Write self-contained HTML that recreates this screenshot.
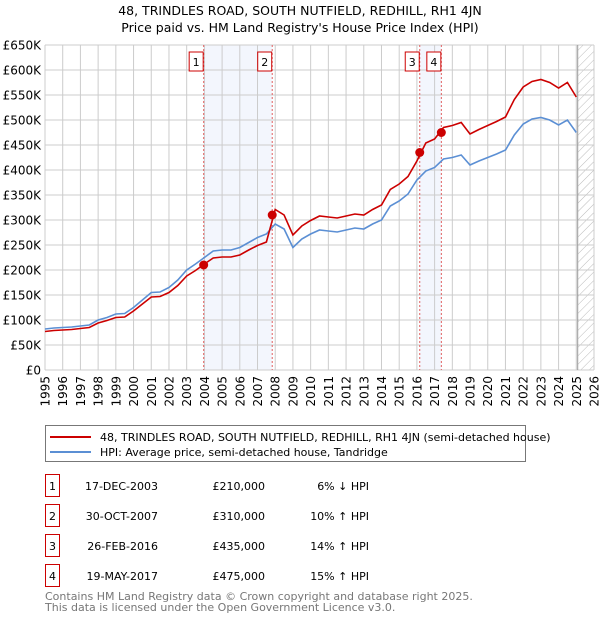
<!DOCTYPE html>
<html><head><meta charset="utf-8"><style>
body{margin:0;background:#fff;font-family:"Liberation Sans","DejaVu Sans",sans-serif;}
#wrap{position:relative;width:600px;height:620px;overflow:hidden;}
svg text{font-family:"DejaVu Sans","Liberation Sans",sans-serif;}
</style></head><body>
<div id="wrap">
<svg id="c" width="600" height="620"></svg>
</div>
<script>
const years=[1995,1995.5,1996,1996.5,1997,1997.5,1998,1998.5,1999,1999.5,2000,2000.5,2001,2001.5,2002,2002.5,2003,2003.5,2004,2004.5,2005,2005.5,2006,2006.5,2007,2007.5,2008,2008.5,2009,2009.5,2010,2010.5,2011,2011.5,2012,2012.5,2013,2013.5,2014,2014.5,2015,2015.5,2016,2016.5,2017,2017.5,2018,2018.5,2019,2019.5,2020,2020.5,2021,2021.5,2022,2022.5,2023,2023.5,2024,2024.5,2025];
const hpiValues=[82,84,85,86,88,90,100,105,112,113,125,140,155,156,165,180,200,212,225,238,240,240,245,255,265,272,292,282,245,262,272,280,278,276,280,284,282,292,300,328,338,352,380,398,405,422,425,430,410,418,425,432,440,470,492,502,505,500,490,500,475];
const propValues=[77,79,80,81,83,85,94,99,105,106,118,132,146,147,155,169,188,199,212,224,226,226,230,240,249,256,321,310,270,288,299,308,306,304,308,312,310,321,330,361,372,387,418,454,462,485,489,495,472,481,489,497,506,541,566,577,581,575,564,575,546];
const saleDates=[2003.96,2007.83,2016.16,2017.38];
const salePrices=[210,310,435,475];
const saleLabels=["1","2","3","4"];
const yTicks=[0,50,100,150,200,250,300,350,400,450,500,550,600,650];
const xTicks=[1995,1996,1997,1998,1999,2000,2001,2002,2003,2004,2005,2006,2007,2008,2009,2010,2011,2012,2013,2014,2015,2016,2017,2018,2019,2020,2021,2022,2023,2024,2025,2026];

const L=45,R=594,T=45,B=370,x0=1995,x1=2026,yMax=650,dataEnd=2025.08;
const X=v=>L+(v-x0)/(x1-x0)*(R-L);
const Y=v=>B-v/yMax*(B-T);
const NS="http://www.w3.org/2000/svg";
const svg=document.getElementById('c');
function mk(t,a,p){const e=document.createElementNS(NS,t);for(const k in a)e.setAttribute(k,a[k]);(p||svg).appendChild(e);return e;}

const defs=mk('defs',{});
const pat=mk('pattern',{id:'hatch',width:6,height:6,patternUnits:'userSpaceOnUse',patternTransform:'rotate(45)'},defs);
mk('line',{x1:0,y1:0,x2:0,y2:6,stroke:'#bbb','stroke-width':1},pat);

let t=mk('text',{x:300,y:15,'text-anchor':'middle','font-size':12.5,fill:'#000'});t.textContent="48, TRINDLES ROAD, SOUTH NUTFIELD, REDHILL, RH1 4JN";


t=mk('text',{x:300,y:32,'text-anchor':'middle','font-size':12.5,fill:'#000'});t.textContent="Price paid vs. HM Land Registry's House Price Index (HPI)";



for(let i=0;i<4;i+=2){
  const r=mk('rect',{x:X(saleDates[i]),y:T,width:X(saleDates[i+1])-X(saleDates[i]),height:B-T,fill:'#f3f6fd'});
  
  
}
const hr=mk('rect',{x:X(dataEnd),y:T,width:R-X(dataEnd),height:B-T,fill:'url(#hatch)'});



yTicks.forEach(v=>{
  const g=mk('line',{x1:L,x2:R,y1:Y(v),y2:Y(v),stroke:'#ccc','stroke-width':1});
  
  
  const tx=mk('text',{x:L-4,y:Y(v)+4.5,'text-anchor':'end','font-size':12,fill:'#000'});
  tx.textContent=v===0?'£0':'£'+v+'K';
  
  
});
xTicks.forEach(v=>{
  const g=mk('line',{x1:X(v),x2:X(v),y1:T,y2:B,stroke:'#ccc','stroke-width':1});
  
  
  const tx=mk('text',{x:0,y:0,'text-anchor':'end','font-size':12,fill:'#000',transform:`translate(${X(v)+4.5},${B+6}) rotate(-90)`});
  tx.textContent=v;
  
  
});
const el=mk('line',{x1:X(dataEnd),x2:X(dataEnd),y1:T,y2:B,stroke:'#999','stroke-width':1});



saleDates.forEach((d,i)=>{
  const l=mk('line',{x1:X(d),x2:X(d),y1:T,y2:B,stroke:'#e06060','stroke-width':1,'stroke-dasharray':'2,2'});
  
  
  const bx=mk('rect',{x:X(d)-7-7.5,y:52,width:14,height:19,fill:'#fff',stroke:'#c00','stroke-width':1});
  
  
  const tx=mk('text',{x:X(d)-7.5,y:66,'text-anchor':'middle','font-size':11,fill:'#000'});
  tx.textContent=saleLabels[i];
  
  
});

function line(vals,col,name){
  const p=mk('path',{d:vals.map((v,i)=>(i?'L':'M')+X(years[i]).toFixed(1)+','+Y(v).toFixed(1)).join(''),fill:'none',stroke:col,'stroke-width':1.6});
  
  
}
line(hpiValues,'#5b8fd4','hpi-line');
line(propValues,'#cc0000','price-paid-line');
saleDates.forEach((d,i)=>{
  const c=mk('circle',{cx:X(d),cy:Y(salePrices[i]),r:4.5,fill:'#cc0000'});
  
  
});

const lg=mk('rect',{x:45.5,y:425.5,width:480,height:36,fill:'#fff',stroke:'#777','stroke-width':1});


mk('line',{x1:50,x2:91,y1:437,y2:437,stroke:'#cc0000','stroke-width':2});
mk('line',{x1:50,x2:91,y1:452,y2:452,stroke:'#5b8fd4','stroke-width':2});
t=mk('text',{x:100,y:441,'font-size':11,fill:'#000'});t.textContent="48, TRINDLES ROAD, SOUTH NUTFIELD, REDHILL, RH1 4JN (semi-detached house)";


t=mk('text',{x:100,y:456,'font-size':11,fill:'#000'});t.textContent="HPI: Average price, semi-detached house, Tandridge";



const tDates=["17-DEC-2003","30-OCT-2007","26-FEB-2016","19-MAY-2017"];
const tPrices=["£210,000","£310,000","£435,000","£475,000"];
const tHpi=["6% \u2193 HPI","10% \u2191 HPI","14% \u2191 HPI","15% \u2191 HPI"];
tDates.forEach((d,i)=>{
  const cy=486+i*30;
  const b=mk('rect',{x:45.5,y:cy-11.5,width:14,height:22,fill:'#fff',stroke:'#c00','stroke-width':1});
  
  
  let tx=mk('text',{x:52.5,y:cy+4,'text-anchor':'middle','font-size':11,fill:'#000'});tx.textContent=saleLabels[i];
  tx=mk('text',{x:158,y:cy+4,'text-anchor':'end','font-size':11,fill:'#000'});tx.textContent=d;
  
  
  tx=mk('text',{x:265,y:cy+4,'text-anchor':'end','font-size':11,fill:'#000'});tx.textContent=tPrices[i];
  
  
  tx=mk('text',{x:369,y:cy+4,'text-anchor':'end','font-size':11,fill:'#000'});tx.textContent=tHpi[i];
  
  
});
t=mk('text',{x:45,y:600,'font-size':11,fill:'#777'});t.textContent="Contains HM Land Registry data © Crown copyright and database right 2025.";


t=mk('text',{x:45,y:611,'font-size':11,fill:'#777'});t.textContent="This data is licensed under the Open Government Licence v3.0.";


</script>
</body></html>
